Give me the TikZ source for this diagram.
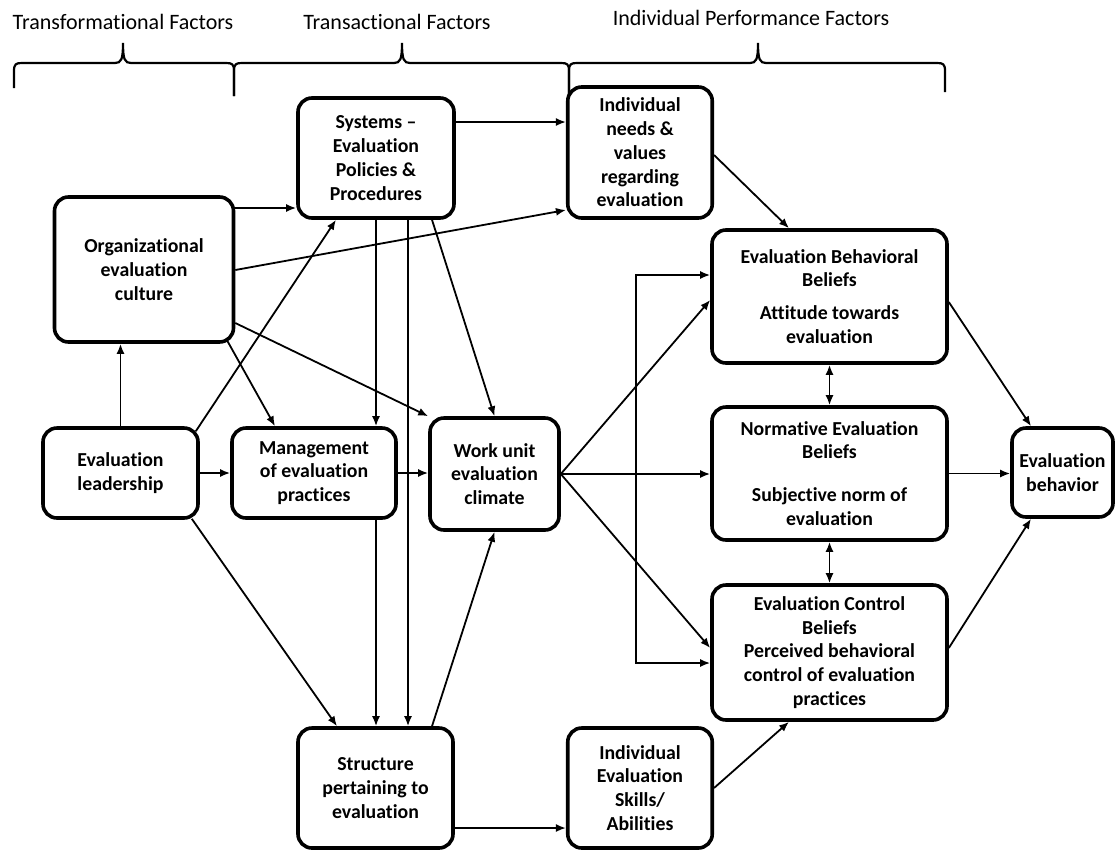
\documentclass[tikz,border=0pt]{standalone}
\usepackage{fontspec}
\setmainfont{Carlito}[Ligatures=NoCommon]
\usetikzlibrary{arrows.meta,calc}
\begin{document}
\begin{tikzpicture}[x=1pt,y=-1pt,
  box/.style={draw, line width=3.6pt, rounded corners=14pt, align=center, inner sep=0pt,
    font=\bfseries\fontsize{19.8}{23.8}\selectfont},
  arr/.style={line width=1.8pt, -{Latex[length=10pt,width=8pt]}},
  darr/.style={line width=1.8pt, {Latex[length=10pt,width=8pt]}-{Latex[length=10pt,width=8pt]}},
  hdr/.style={anchor=base, inner sep=0pt, font=\fontsize{22}{26}\selectfont},
  brc/.style={line width=2.2pt}]
\useasboundingbox (0,0) rectangle (1115,852);

% headers
\node[hdr] (h1) at (123,29) {Transformational Factors};
\node[hdr] (h2) at (397,29) {Transactional Factors};
\node[hdr] (h3) at (751,25) {Individual Performance Factors};

% braces
\draw[brc] (14,88) -- (14,71) .. controls (14,64) and (16,63) .. (22,63) -- (115,63)
  .. controls (121,63) and (123,60) .. (123,43) .. controls (123,60) and (125,63) .. (131,63)
  -- (226,63) .. controls (232,63) and (234,64) .. (234,71) -- (234,96);
\draw[brc] (234,96) -- (234,71) .. controls (234,64) and (236,63) .. (242,63) -- (394,63)
  .. controls (400,63) and (402,60) .. (402,43) .. controls (402,60) and (404,63) .. (410,63)
  -- (561,63) .. controls (567,63) and (569,64) .. (569,71) -- (569,94);
\draw[brc] (569,94) -- (569,71) .. controls (569,64) and (571,63) .. (577,63) -- (750,63)
  .. controls (756,63) and (758,60) .. (758,43) .. controls (758,60) and (760,63) .. (766,63)
  -- (937,63) .. controls (943,63) and (945,64) .. (945,71) -- (945,92);

% boxes
\node[box, minimum width=156pt, minimum height=120pt] (sys) at (376,158)
  {Systems --\\Evaluation\\Policies \&\\Procedures};
\node[box, minimum width=144.5pt, minimum height=131pt] (need) at (640,152.5)
  {Individual\\needs \&\\values\\regarding\\evaluation};
\node[box, minimum width=179pt, minimum height=145pt] (org) at (144,269.5)
  {Organizational\\evaluation\\culture};
\node[box, minimum width=235pt, minimum height=133pt] (EBB) at (829.5,296.5)
  {Evaluation Behavioral\\Beliefs\\[9pt]Attitude towards\\evaluation};
\node[box, minimum width=235pt, minimum height=133pt] (NEB) at (829.5,473.5)
  {Normative Evaluation\\Beliefs\\[19pt]Subjective norm of\\evaluation};
\node[box, minimum width=235pt, minimum height=135pt] (ECB) at (829.5,652.5)
  {Evaluation Control\\Beliefs\\Perceived behavioral\\control of evaluation\\practices};
\node[box, minimum width=101pt, minimum height=89pt] (behav) at (1062.5,472.5)
  {Evaluation\\behavior};
\node[box, minimum width=155pt, minimum height=90pt] (lead) at (120.5,473)
  {Evaluation\\leadership};
\node[box, minimum width=164pt, minimum height=90pt] (mgmt) at (314,473)
  {Management\\of evaluation\\practices};
\node[box, minimum width=129pt, minimum height=112pt] (work) at (494.5,474)
  {Work unit\\evaluation\\climate};
\node[box, minimum width=155pt, minimum height=120pt] (struct) at (375.5,788)
  {Structure\\pertaining to\\evaluation};
\node[box, minimum width=144.5pt, minimum height=120pt] (skills) at (640,788)
  {Individual\\Evaluation\\Skills/\\Abilities};

% connectors
\draw[arr] (org.east |- 0,208) -- (sys.west |- 0,208);
\draw[arr] (sys.east |- 0,122) -- (need.west |- 0,122);
\draw[arr] (org.east |- 0,270) -- (need.west |- 0,210);
\draw[arr] (need.east |- 0,155) -- (EBB.north -| 789,0);
\draw[arr] (lead.north) -- (lead.north |- org.south);
\draw[arr] ($(lead.north east)+(-4,5)$) -- (sys.south -| 336,0);
\draw[arr] ($(org.south east)+(-8,-3)$) -- (mgmt.north -| 275,0);
\draw[arr] (org.east |- 0,323) -- (work.north west);
\draw[arr] (sys.south) -- (sys.south |- mgmt.north);
\draw[arr] (sys.south -| 408,0) -- (struct.north -| 408,0);
\draw[arr] (sys.south -| 432,0) -- (work.north);
\draw[arr] (lead.east) -- (mgmt.west);
\draw[arr] (mgmt.east) -- (mgmt.east -| work.west);
\draw[arr] ($(lead.south east)+(-8,-1)$) -- (struct.north -| 337,0);
\draw[arr] (mgmt.south -| sys.south) -- (sys.south |- struct.north);
\draw[arr] (struct.north -| 432,0) -- (work.south);
\draw[arr] (struct.east |- 0,828) -- (skills.west |- 0,828);
\draw[arr] (work.east) -- (EBB.west |- 0,300);
\draw[arr] (work.east) -- (work.east -| NEB.west);
\draw[arr] (work.east) -- (ECB.west |- 0,648);
\coordinate (jt) at (636,275);
\coordinate (jb) at (636,663);
\draw[arr] (jb) -- (jt) -- (jt -| EBB.west);
\draw[arr] (jt) -- (jb) -- (jb -| ECB.west);
\draw[darr] (EBB.south) -- (NEB.north);
\draw[darr] (NEB.south) -- (ECB.north);
\draw[arr] (EBB.east |- 0,302) -- (behav.north -| 1031,0);
\draw[arr] (NEB.east) -- (NEB.east -| behav.west);
\draw[arr] (ECB.east |- 0,648) -- (behav.south -| 1031,0);
\draw[arr] (skills.east |- 0,788) -- (ECB.south -| 789,0);
\end{tikzpicture}
\end{document}
